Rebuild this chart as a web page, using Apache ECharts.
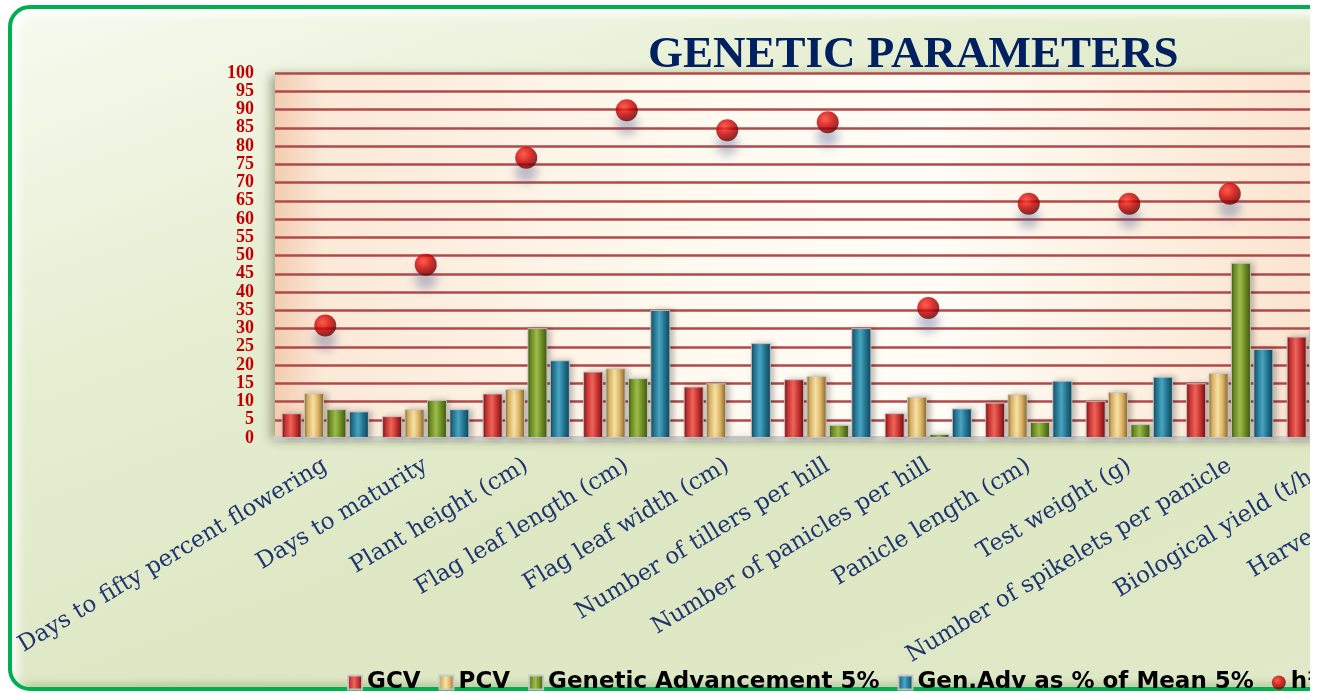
<!DOCTYPE html>
<html>
<head>
<meta charset="utf-8">
<script src="https://cdn.jsdelivr.net/npm/echarts@6/dist/echarts.min.js"></script>
<style>
    html, body { margin: 0; padding: 0; background: #fff; }
    #wrap { position: absolute; left: 0; top: 0; width: 1310px; height: 693px; overflow: hidden; }
    #frame {
        position: absolute; left: 8px; top: 5px; width: 1560px; height: 678px;
        border: 4px solid #00b050; border-radius: 22px;
        background: linear-gradient(160deg, #f7faef 0%, #e6eed2 30%, #dde7c3 60%, #e1eac9 100%);
        box-shadow: inset 6px 6px 10px rgba(255,255,255,0.9), inset -2px -4px 6px rgba(120,140,90,0.35);
    }
    #main { position: absolute; left: 0; top: 0; width: 1560px; height: 693px; }
</style>
</head>
<body>
<div id="wrap">
    <div id="frame"></div>
    <div id="main"></div>
</div>
<script>
//性状名称
const traits = [
    'Days to fifty percent flowering', 'Days to maturity', 'Plant height (cm)',
    'Flag leaf length (cm)', 'Flag leaf width (cm)', 'Number of tillers per hill',
    'Number of panicles per hill', 'Panicle length (cm)', 'Test weight (g)',
    'Number of spikelets per panicle', 'Biological yield (t/ha)', 'Harvest index (%)'
];

//各参数数值
const gcv = [6.8, 6.0, 12.2, 18.2, 14.1, 16.1, 6.8, 9.7, 10.2, 15.0, 27.8, 12.0];
const pcv = [12.3, 7.9, 13.4, 19.1, 15.0, 17.0, 11.3, 12.0, 12.6, 17.8, 30.0, 16.0];
const genAdv = [7.9, 10.4, 30.1, 16.4, 0.4, 3.6, 1.1, 4.4, 3.8, 48.0, 45.0, 6.0];
const genAdvMean = [7.3, 7.9, 21.3, 35.1, 26.0, 30.1, 8.1, 15.7, 16.8, 24.4, 54.0, 19.0];
const heritability = [30.8, 47.5, 76.8, 89.8, 84.3, 86.5, 35.6, 64.2, 64.2, 66.9, 86.0, 56.0];

//y轴刻度
const yMin = 0, yMax = 100, yStep = 5;

let chart = echarts.init(document.getElementById('main'));

//立体柱子的横向渐变
function bevel(dark, mid, light) {
    return new echarts.graphic.LinearGradient(0, 0, 1, 0, [
        { offset: 0, color: dark },
        { offset: 0.18, color: mid },
        { offset: 0.45, color: light },
        { offset: 0.7, color: mid },
        { offset: 1, color: dark }
    ]);
}

function barSeries(name, data, colors) {
    return {
        name: name,
        type: 'bar',
        data: data,
        barWidth: 20,
        barGap: '12%',
        itemStyle: {
            color: bevel(colors[0], colors[1], colors[2]),
            borderColor: 'rgba(200,200,200,0.9)',
            borderWidth: 1,
            shadowColor: 'rgba(0,0,0,0.25)',
            shadowBlur: 6,
            shadowOffsetX: 3
        }
    };
}

chart.setOption({
    animation: false,
    title: {
        text: 'GENETIC PARAMETERS',
        left: 643,
        top: 28,
        textStyle: {
            fontFamily: 'Liberation Serif',
            fontWeight: 'bold',
            fontSize: 45,
            color: '#002060'
        }
    },
    legend: {
        left: 342,
        top: 666,
        itemWidth: 14,
        itemHeight: 14,
        itemGap: 18,
        textStyle: {
            fontFamily: 'DejaVu Sans',
            fontWeight: 'bold',
            fontSize: 23,
            color: '#000'
        },
        data: [
            { name: 'GCV', icon: 'rect' },
            { name: 'PCV', icon: 'rect' },
            { name: 'Genetic Advancement 5%', icon: 'rect' },
            { name: 'Gen.Adv as % of Mean 5%', icon: 'rect' },
            { name: 'h² (Broad sense)', icon: 'circle' }
        ]
    },
    grid: {
        left: 275,
        top: 73,
        width: 1206,
        height: 365,
        show: true,
        borderWidth: 0,
        backgroundColor: new echarts.graphic.LinearGradient(0, 0, 1, 0, [
            { offset: 0, color: '#f3ccb0' },
            { offset: 0.04, color: '#fbe9d8' },
            { offset: 0.35, color: '#fffaf0' },
            { offset: 0.55, color: '#fffdf6' },
            { offset: 0.8, color: '#fce9d6' },
            { offset: 1, color: '#f7d8bd' }
        ]),
        shadowColor: 'rgba(60,60,30,0.45)',
        shadowBlur: 10,
        shadowOffsetX: -4,
        shadowOffsetY: 2
    },
    xAxis: {
        type: 'category',
        data: traits,
        axisLine: { lineStyle: { color: '#cdcdcd', width: 5 } },
        axisTick: { show: false },
        axisLabel: {
            rotate: 31,
            margin: 26,
            interval: 0,
            fontFamily: 'DejaVu Serif',
            fontSize: 23,
            color: '#1f3570'
        }
    },
    yAxis: {
        type: 'value',
        min: yMin,
        max: yMax,
        interval: yStep,
        axisLine: { show: false },
        axisTick: { show: false },
        axisLabel: {
            margin: 21,
            showMinLabel: true,
            showMaxLabel: true,
            hideOverlap: false,
            fontFamily: 'Liberation Serif',
            fontWeight: 'bold',
            fontSize: 18,
            lineHeight: 16,
            color: '#c00000'
        },
        splitLine: { lineStyle: { color: '#b04a4a', width: 2.5 } }
    },
    series: [
        barSeries('GCV', gcv, ['#6a0d0d', '#c83434', '#f06658']),
        barSeries('PCV', pcv, ['#80622a', '#ddb566', '#f8e3a6']),
        barSeries('Genetic Advancement 5%', genAdv, ['#3b5410', '#6f8f24', '#9ebf4c']),
        barSeries('Gen.Adv as % of Mean 5%', genAdvMean, ['#0f4258', '#24758f', '#4aa6c4']),
        {
            name: 'h² (Broad sense)',
            type: 'scatter',
            data: heritability,
            symbol: 'circle',
            symbolSize: 22,
            z: 5,
            itemStyle: {
                color: new echarts.graphic.RadialGradient(0.38, 0.35, 0.7, [
                    { offset: 0, color: '#ff3a2a' },
                    { offset: 0.5, color: '#d00000' },
                    { offset: 1, color: '#5e0000' }
                ]),
                shadowColor: 'rgba(70,90,140,0.45)',
                shadowBlur: 10,
                shadowOffsetY: 14
            }
        }
    ]
});
</script>
</body>
</html>
